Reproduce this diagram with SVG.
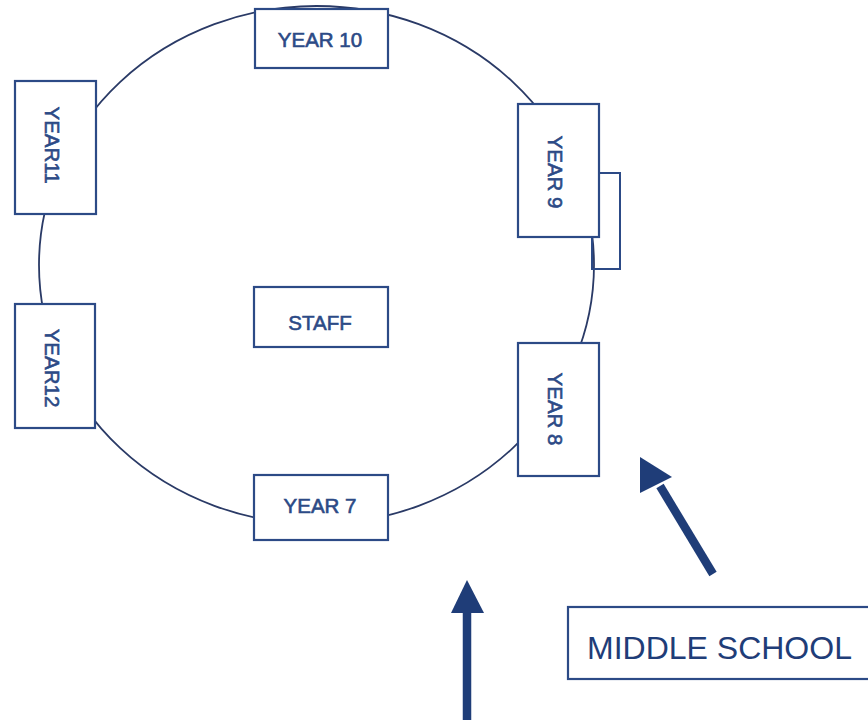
<svg xmlns="http://www.w3.org/2000/svg" width="868" height="720" viewBox="0 0 868 720">
<style>
.box{fill:#fff;stroke:#2c4a86;stroke-width:2.2}
.lbl{font-family:"Liberation Sans",Arial,sans-serif;font-size:20.5px;fill:#2c4a86;stroke:#2c4a86;stroke-width:0.6;text-anchor:middle}
.big{font-family:"Liberation Sans",Arial,sans-serif;font-size:32px;fill:#1f3d78;text-anchor:start}
.ring{fill:none;stroke:#2a3a66;stroke-width:1.8}
.arrow{fill:#1f3d78;stroke:none}
.shaft{stroke:#1f3d78;stroke-width:8.5;fill:none}
</style>
<rect width="868" height="720" fill="#fff"/>
<g id="connectors">
<ellipse class="ring" cx="316.5" cy="265" rx="277.5" ry="259"/>
<rect x="592" y="173" width="28" height="96" fill="none" stroke="#2c4a86" stroke-width="2"/>
<line class="shaft" x1="467" y1="720" x2="467" y2="608"/>
<polygon class="arrow" points="467,580 484,613 451,613"/>
<line class="shaft" x1="713" y1="574" x2="660" y2="486"/>
<polygon class="arrow" points="640,457 672,477 640,493"/>
</g>
<g id="year10"><rect class="box" x="255" y="9" width="133" height="59"/><text class="lbl" x="320" y="47">YEAR 10</text></g>
<g id="year11"><rect class="box" x="15" y="81" width="81" height="133"/><text class="lbl" transform="translate(45,145) rotate(90)">YEAR11</text></g>
<g id="year12"><rect class="box" x="15" y="304" width="80" height="124"/><text class="lbl" transform="translate(45,368) rotate(90)">YEAR12</text></g>
<g id="year9"><rect class="box" x="518" y="104" width="81" height="133"/><text class="lbl" transform="translate(548,172) rotate(90)">YEAR 9</text></g>
<g id="year8"><rect class="box" x="518" y="343" width="81" height="133"/><text class="lbl" transform="translate(548,409) rotate(90)">YEAR 8</text></g>
<g id="staff"><rect class="box" x="254" y="287" width="134" height="60"/><text class="lbl" x="320" y="330">STAFF</text></g>
<g id="year7"><rect class="box" x="254" y="475" width="134" height="65"/><text class="lbl" x="320" y="513">YEAR 7</text></g>
<g id="middle-school"><rect class="box" x="568" y="607" width="310" height="72"/><text class="big" x="587" y="659">MIDDLE SCHOOL</text></g>
</svg>
